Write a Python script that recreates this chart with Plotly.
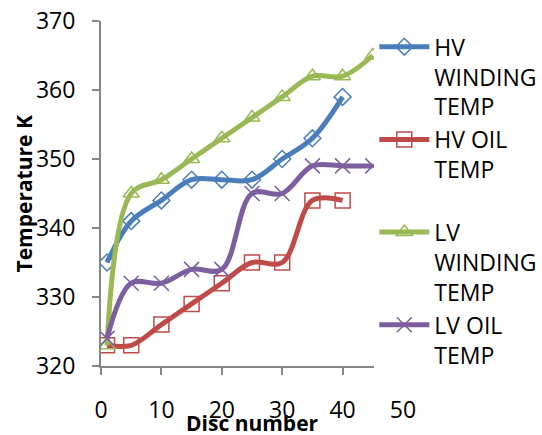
import plotly.graph_objects as go

disc = [1, 5, 10, 15, 20, 25, 30, 35, 40, 45]
hv_winding = [335, 341, 344, 347, 347, 347, 350, 353, 359]
hv_oil = [323, 323, 326, 329, 332, 335, 335, 344, 344]
lv_winding = [323, 345, 347, 350, 353, 356, 359, 362, 362, 365]
lv_oil = [324, 332, 332, 334, 334, 345, 345, 349, 349, 349]

names = ["HV<br>WINDING<br>TEMP", "HV OIL<br>TEMP<br> ", "LV<br>WINDING<br>TEMP", "LV OIL<br>TEMP"]
colors = ["#4A7EBB", "#BE4B48", "#98B954", "#7D5FA0"]
symbols = ["diamond-open", "square-open", "triangle-up-open", "x-thin-open"]
sizes = [13, 15, 14, 15]
series = [hv_winding, hv_oil, lv_winding, lv_oil]

FONT = "Open Sans, sans-serif"

fig = go.Figure()
for name, ys, c, s, sz in zip(names, series, colors, symbols, sizes):
    fig.add_trace(go.Scatter(
        x=disc[:len(ys)], y=ys, name=name, mode="lines+markers",
        line=dict(color=c, width=5, shape="spline", smoothing=1),
        marker=dict(symbol=s, size=sz, color=c, line=dict(color=c, width=1.5)),
    ))

axis_common = dict(showgrid=False, zeroline=False, showline=True, linecolor="#868686",
                   linewidth=2, ticks="outside", tickcolor="#868686", tickwidth=2, ticklen=7,
                   automargin=False,
                   tickfont=dict(family=FONT, size=23, color="#000000"))
fig.update_xaxes(range=[0, 50], dtick=10, tick0=0, ticklabelstandoff=15, **axis_common)
fig.update_yaxes(range=[320, 370], dtick=10, tick0=320, ticklabelstandoff=12, **axis_common)

fig.update_layout(
    width=542, height=435,
    margin=dict(l=101, r=139, t=21, b=69, autoexpand=False),
    paper_bgcolor="white", plot_bgcolor="white",
    font=dict(family=FONT, size=23, color="#000000"),
    legend=dict(x=0.905, xanchor="left", y=0.942, yanchor="top", valign="top",
                yref="container", maxheight=1.0,
                bgcolor="rgba(255,255,255,1)", itemwidth=50,
                font=dict(family=FONT, size=23, color="#000000"), tracegroupgap=0),
    annotations=[
        dict(text="<b>Disc number</b>", xref="paper", yref="paper", x=0.5, y=-0.165,
             xanchor="center", yanchor="middle", showarrow=False,
             font=dict(family=FONT, size=21, color="#000000")),
        dict(text="<b>Temperature K</b>", xref="paper", yref="paper", x=-0.255, y=0.5,
             xanchor="center", yanchor="middle", showarrow=False, textangle=-90,
             font=dict(family=FONT, size=21, color="#000000")),
    ],
)

fig.write_html("out.html")
